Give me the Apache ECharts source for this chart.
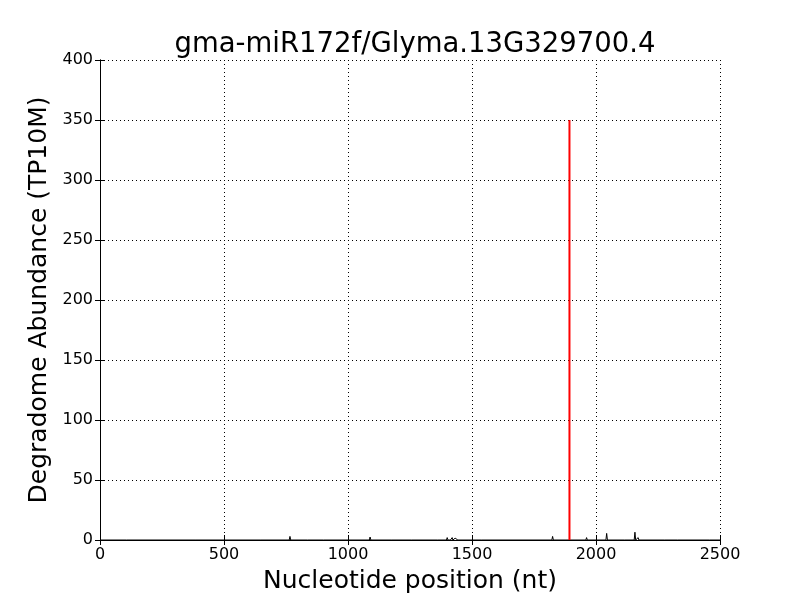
<!DOCTYPE html>
<html><head><meta charset="utf-8">
<script src="https://cdn.jsdelivr.net/npm/echarts@6/dist/echarts.min.js"></script>
<style>html,body{margin:0;padding:0;background:#fff}#c{width:800px;height:600px}</style>
</head><body><div id="c"></div>
<script>
var titleText = 'gma-miR172f/Glyma.13G329700.4';
var xTicks = [0, 500, 1000, 1500, 2000, 2500];
var yTicks = [0, 50, 100, 150, 200, 250, 300, 350, 400];
var peakPos = [110, 390, 652, 766, 840, 905, 1089, 1180, 1260, 1363, 1400, 1410, 1420, 1432, 1440, 1540, 1825, 1882, 1962, 2043, 2117, 2157, 2170, 2278, 2331, 2460];
var peakVal = [0.5, 0.5, 1, 3, 1, 0.5, 2.5, 0.5, 0.5, 1, 2, 1.5, 2, 1.5, 1, 1, 3, 1, 2, 5.5, 1, 6.5, 2, 1, 1, 0.5];
var sitePos = 1893;
var siteVal = 350;

var lineData = [[0, 0]];
for (var i = 0; i < peakPos.length; i++) {
  lineData.push([peakPos[i] - 3, 0], [peakPos[i], peakVal[i]], [peakPos[i] + 3, 0]);
}
lineData.push([2500, 0]);

var font = 'DejaVu Sans';
var chart = echarts.init(document.getElementById('c'));
var common = {
  min: 0, axisLine: {show: true, lineStyle: {color: '#000', width: 1}},
  axisTick: {show: true, inside: true, length: 5, lineStyle: {color: '#000'}}
};
chart.setOption({
  animation: false,
  title: {text: titleText, left: 410, textAlign: 'center', top: 26, textStyle: {fontFamily: font, fontSize: 27.5, fontWeight: 'normal', color: '#000'}},
  grid: {left: 100, right: 80, top: 60, bottom: 60, outerBoundsMode: 'none', containLabel: false},
  xAxis: [
    Object.assign({}, common, {type: 'value', max: 2500, interval: 500, position: 'bottom',
      name: 'Nucleotide position (nt)', nameLocation: 'middle', nameGap: 29,
      nameTextStyle: {fontFamily: font, fontSize: 25, color: '#000'},
      axisLabel: {fontFamily: font, fontSize: 16, color: '#000', margin: 7, formatter: function (v) { return String(v); }},
      splitLine: {show: true, lineStyle: {color: '#000', type: [1, 3], width: 1}}}),
    Object.assign({}, common, {type: 'value', max: 2500, interval: 500, position: 'top',
      axisLabel: {show: false}, splitLine: {show: false}})
  ],
  yAxis: [
    Object.assign({}, common, {type: 'value', max: 400, interval: 50, position: 'left',
      name: 'Degradome Abundance (TP10M)', nameLocation: 'middle', nameGap: 44,
      nameTextStyle: {fontFamily: font, fontSize: 25, color: '#000'},
      axisLabel: {fontFamily: font, fontSize: 16, color: '#000', margin: 7},
      splitLine: {show: true, lineStyle: {color: '#000', type: [1, 3], width: 1}}}),
    Object.assign({}, common, {type: 'value', max: 400, interval: 50, position: 'right',
      axisLabel: {show: false}, splitLine: {show: false}})
  ],
  series: [
    {type: 'line', data: lineData, showSymbol: false, symbol: 'none', lineStyle: {color: '#000', width: 1}, z: 3},
    {type: 'line', data: [[sitePos, 0], [sitePos, siteVal]], showSymbol: false, symbol: 'none', lineStyle: {color: '#ff0000', width: 2}, z: 4}
  ]
});
</script></body></html>
